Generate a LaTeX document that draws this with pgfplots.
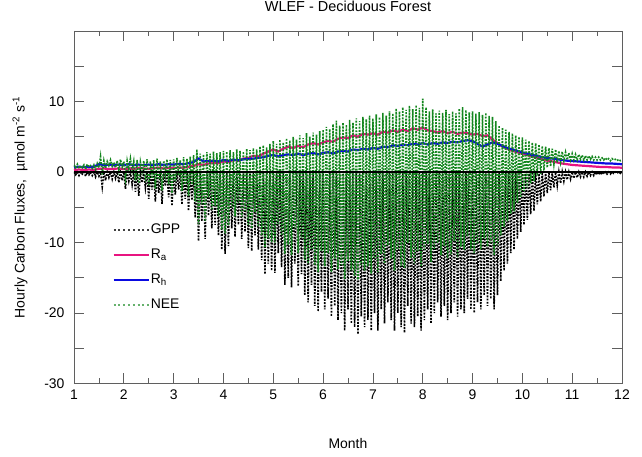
\documentclass[border=0pt]{standalone}
\usepackage{fontspec}
\setmainfont{Liberation Sans}
\usepackage{pgfplots}
\usepackage{pgfplotstable}
\pgfplotsset{compat=1.18}

\definecolor{RaPink}{RGB}{232,20,128}
\definecolor{RhBlue}{RGB}{10,10,225}
\definecolor{NeeGreen}{RGB}{20,135,30}
\definecolor{AxisGray}{RGB}{95,95,95}

% hourly fluxes, thinned to one night/noon pair every two days
\pgfplotstableread{
x gpp nee
1.000 0 1.0
1.033 -0.4 0.6
1.067 0 1.1
1.100 -0.5 0.5
1.133 0 0.9
1.167 -0.3 0.6
1.200 0 1.0
1.233 -0.6 0.4
1.267 0 1.1
1.300 -0.4 0.7
1.333 0 0.9
1.367 -0.5 0.5
1.400 0 1.0
1.433 -0.7 0.3
1.467 0 1.2
1.500 -0.6 0.6
1.533 0 2.2
1.567 -2.1 -0.4
1.600 0 1.6
1.633 -1.2 0.5
1.667 0 1.5
1.700 -0.8 0.9
1.733 0 1.7
1.767 -1.0 0.8
1.800 0 1.4
1.833 -0.9 0.6
1.867 0 1.6
1.900 -1.5 0.2
1.933 0 1.8
1.967 -1.2 0.7
2.000 0 1.5
2.033 -2.4 -0.8
2.067 0 1.6
2.100 -1.3 0.4
2.133 0 1.9
2.167 -1.8 0.2
2.200 0 1.5
2.233 -2.8 -1.2
2.267 0 1.7
2.300 -3.4 -1.6
2.333 0 1.4
2.367 -1.5 0.1
2.400 0 1.6
2.433 -2.2 -0.5
2.467 0 1.8
2.500 -3.8 -2.0
2.533 0 1.5
2.567 -2.5 -0.9
2.600 0 1.7
2.633 -4.2 -2.4
2.667 0 1.9
2.700 -3.0 -1.1
2.733 0 1.5
2.767 -4.5 -2.6
2.800 0 1.6
2.833 -2.0 -0.3
2.867 0 1.8
2.900 -3.6 -1.8
2.933 0 1.7
2.967 -4.8 -3.0
3.000 0 1.8
3.033 -3.2 -1.3
3.067 0 2.0
3.100 -2.5 -0.5
3.133 0 1.7
3.167 -4.6 -2.7
3.200 0 2.1
3.233 -3.8 -1.8
3.267 0 1.9
3.300 -5.5 -3.4
3.333 0 2.2
3.367 -4.0 -1.8
3.400 0 2.4
3.433 -6.5 -4.2
3.467 0 3.2
3.500 -9.8 -7.4
3.533 0 2.6
3.567 -7.0 -4.6
3.600 0 2.5
3.633 -9.5 -7.0
3.667 0 2.8
3.700 -6.2 -3.6
3.733 0 2.6
3.767 -8.0 -5.4
3.800 0 2.9
3.833 -7.5 -4.8
3.867 0 2.7
3.900 -9.0 -6.3
3.933 0 2.8
3.967 -11.0 -8.2
4.000 0 3.0
4.033 -11.6 -8.7
4.067 0 2.9
4.100 -10.5 -7.6
4.133 0 3.1
4.167 -8.0 -5.0
4.200 0 2.8
4.233 -9.2 -6.3
4.267 0 3.2
4.300 -7.5 -4.4
4.333 0 3.0
4.367 -9.5 -6.4
4.400 0 2.9
4.433 -8.5 -5.5
4.467 0 3.3
4.500 -10.8 -7.6
4.533 0 3.1
4.567 -11.2 -8.0
4.600 0 3.4
4.633 -9.0 -5.7
4.667 0 3.2
4.700 -11.0 -7.8
4.733 0 3.6
4.767 -12.5 -9.0
4.800 0 3.8
4.833 -14.5 -10.7
4.867 0 3.5
4.900 -13.0 -9.4
4.933 0 4.0
4.967 -14.0 -10.0
5.000 0 4.4
5.033 -14.3 -10.0
5.067 0 4.0
5.100 -11.5 -7.4
5.133 0 4.6
5.167 -13.5 -9.0
5.200 0 4.2
5.233 -16.0 -11.6
5.267 0 4.8
5.300 -15.0 -10.3
5.333 0 4.5
5.367 -16.4 -11.8
5.400 0 5.0
5.433 -13.0 -8.0
5.467 0 4.6
5.500 -16.2 -11.5
5.533 0 5.2
5.567 -14.5 -9.3
5.600 0 4.8
5.633 -17.5 -12.5
5.667 0 5.5
5.700 -18.5 -13.0
5.733 0 5.0
5.767 -16.0 -11.0
5.800 0 5.6
5.833 -19.0 -13.2
5.867 0 5.3
5.900 -19.8 -14.2
5.933 0 5.8
5.967 -17.0 -11.2
6.000 0 6.0
6.033 -19.5 -13.4
6.067 0 6.4
6.100 -18.0 -11.6
6.133 0 6.1
6.167 -20.5 -14.2
6.200 0 6.8
6.233 -19.0 -12.3
6.267 0 7.3
6.300 -21.0 -13.8
6.333 0 6.6
6.367 -20.0 -13.2
6.400 0 7.0
6.433 -22.5 -15.2
6.467 0 6.7
6.500 -19.5 -12.6
6.533 0 7.4
6.567 -21.5 -14.0
6.600 0 7.0
6.633 -22.0 -14.8
6.667 0 7.6
6.700 -23.0 -15.3
6.733 0 7.2
6.767 -20.5 -13.2
6.800 0 7.8
6.833 -22.0 -14.0
6.867 0 7.5
6.900 -21.0 -13.4
6.933 0 8.0
6.967 -22.5 -14.4
7.000 0 7.6
7.033 -20.0 -12.3
7.067 0 8.2
7.100 -22.5 -14.2
7.133 0 7.8
7.167 -19.5 -11.6
7.200 0 8.4
7.233 -21.5 -13.0
7.267 0 8.0
7.300 -18.5 -10.4
7.333 0 8.6
7.367 -21.0 -12.3
7.400 0 8.3
7.433 -22.5 -14.0
7.467 0 9.0
7.500 -20.0 -11.0
7.533 0 8.6
7.567 -22.0 -13.3
7.600 0 9.2
7.633 -22.8 -13.6
7.667 0 8.8
7.700 -19.0 -10.1
7.733 0 9.4
7.767 -21.5 -12.2
7.800 0 8.9
7.833 -22.0 -13.0
7.867 0 9.5
7.900 -20.5 -11.2
7.933 0 9.1
7.967 -22.5 -13.4
8.000 0 10.4
8.033 -21.0 -11.0
8.067 0 9.2
8.100 -19.5 -10.2
8.133 0 8.6
8.167 -21.5 -12.8
8.200 0 8.9
8.233 -20.0 -11.0
8.267 0 8.3
8.300 -18.5 -10.1
8.333 0 8.7
8.367 -20.5 -11.8
8.400 0 8.4
8.433 -19.0 -10.5
8.467 0 8.8
8.500 -21.0 -12.2
8.533 0 8.2
8.567 -20.0 -11.7
8.600 0 8.6
8.633 -18.5 -9.8
8.667 0 8.3
8.700 -20.5 -12.1
8.733 0 9.0
8.767 -19.5 -10.6
8.800 0 9.2
8.833 -20.0 -11.0
8.867 0 8.8
8.900 -18.0 -9.1
8.933 0 8.5
8.967 -19.5 -11.0
9.000 0 8.6
9.033 -20.0 -11.5
9.067 0 8.3
9.100 -18.5 -10.2
9.133 0 8.5
9.167 -19.5 -11.0
9.200 0 8.1
9.233 -17.5 -9.4
9.267 0 8.4
9.300 -19.0 -10.6
9.333 0 8.0
9.367 -18.0 -10.0
9.400 0 7.8
9.433 -19.5 -11.8
9.467 0 7.2
9.500 -17.5 -10.4
9.533 0 6.6
9.567 -15.5 -9.0
9.600 0 6.3
9.633 -14.0 -7.8
9.667 0 6.0
9.700 -13.0 -7.0
9.733 0 5.7
9.767 -11.5 -5.9
9.800 0 5.5
9.833 -11.0 -5.6
9.867 0 5.2
9.900 -9.5 -4.4
9.933 0 5.0
9.967 -8.5 -3.6
10.000 0 4.9
10.033 -7.5 -2.7
10.067 0 4.6
10.100 -6.8 -2.2
10.133 0 4.4
10.167 -6.0 -1.6
10.200 0 4.2
10.233 -5.5 -1.3
10.267 0 4.1
10.300 -4.6 -0.5
10.333 0 3.9
10.367 -4.2 -0.3
10.400 0 3.7
10.433 -3.5 0.2
10.467 0 3.6
10.500 -3.0 0.6
10.533 0 3.4
10.567 -2.6 0.8
10.600 0 3.3
10.633 -2.2 1.1
10.667 0 3.2
10.700 -1.9 1.3
10.733 0 3.0
10.767 -1.6 1.4
10.800 0 2.9
10.833 -1.3 1.6
10.867 0 2.8
10.900 -1.1 1.7
10.933 0 2.7
10.967 -1.0 1.7
11.000 0 2.6
11.033 -0.9 1.7
11.067 0 2.5
11.100 -0.8 1.7
11.133 0 2.5
11.167 -0.7 1.8
11.200 0 2.4
11.233 -0.7 1.7
11.267 0 2.3
11.300 -0.6 1.7
11.333 0 2.3
11.367 -0.5 1.8
11.400 0 2.2
11.433 -0.5 1.7
11.467 0 2.1
11.500 -0.4 1.7
11.533 0 2.1
11.567 -0.4 1.7
11.600 0 2.0
11.633 -0.3 1.7
11.667 0 2.0
11.700 -0.3 1.7
11.733 0 1.9
11.767 -0.3 1.6
11.800 0 1.9
11.833 -0.2 1.7
11.867 0 1.8
11.900 -0.2 1.6
11.933 0 1.8
11.967 -0.2 1.6
12.000 0 1.7
}\fluxes

% respiration components
\pgfplotstableread{
x ra rh
1.0 0.30 0.70
1.1 0.35 0.75
1.2 0.30 0.70
1.3 0.35 0.70
1.4 0.30 0.75
1.5 0.45 1.10
1.6 0.50 1.00
1.7 0.40 1.05
1.8 0.45 0.95
1.9 0.50 1.05
2.0 0.40 1.00
2.1 0.50 1.10
2.2 0.45 1.00
2.3 0.55 1.05
2.4 0.50 0.95
2.5 0.45 1.05
2.6 0.55 1.00
2.7 0.60 1.10
2.8 0.50 1.00
2.9 0.60 1.10
3.0 0.55 1.05
3.1 0.65 1.15
3.2 0.60 1.10
3.3 0.75 1.25
3.4 0.85 1.40
3.5 1.10 1.90
3.6 1.00 1.50
3.7 1.20 1.55
3.8 1.30 1.60
3.9 1.25 1.50
4.0 1.50 1.70
4.1 1.40 1.60
4.2 1.70 1.75
4.3 1.60 1.65
4.4 1.90 1.80
4.5 2.00 1.85
4.6 2.30 1.90
4.7 2.20 2.00
4.8 2.60 2.10
4.9 2.90 2.30
5.0 3.20 2.40
5.1 2.90 2.20
5.2 3.30 2.40
5.3 3.60 2.50
5.4 3.40 2.40
5.5 3.70 2.60
5.6 3.50 2.40
5.7 3.90 2.60
5.8 4.10 2.70
5.9 3.90 2.50
6.0 4.20 2.70
6.1 4.40 2.80
6.2 4.30 2.60
6.3 4.70 2.90
6.4 4.90 3.00
6.5 4.80 2.90
6.6 5.20 3.20
6.7 5.00 3.10
6.8 5.40 3.30
6.9 5.30 3.20
7.0 5.50 3.40
7.1 5.30 3.30
7.2 5.70 3.60
7.3 5.60 3.50
7.4 5.90 3.80
7.5 5.70 3.70
7.6 6.00 3.90
7.7 5.80 3.80
7.8 6.20 4.00
7.9 6.00 3.90
8.0 6.30 4.10
8.1 5.90 3.90
8.2 5.80 4.10
8.3 5.60 4.00
8.4 5.80 4.20
8.5 5.50 4.10
8.6 5.70 4.30
8.7 5.40 4.20
8.8 5.60 4.40
8.9 5.50 4.50
9.0 5.30 4.40
9.1 5.40 4.00
9.2 5.10 3.60
9.3 5.20 3.90
9.4 4.60 4.20
9.5 4.10 4.00
9.6 3.60 3.70
9.7 3.30 3.40
9.8 3.00 3.20
9.9 2.80 3.00
10.0 2.60 2.80
10.1 2.40 2.60
10.2 2.20 2.40
10.3 2.00 2.30
10.4 1.80 2.10
10.5 1.60 2.00
10.6 1.50 1.90
10.7 1.35 1.80
10.8 1.20 1.70
10.9 1.10 1.60
11.0 1.00 1.55
11.1 0.95 1.50
11.2 0.90 1.45
11.3 0.85 1.40
11.4 0.80 1.35
11.5 0.75 1.30
11.6 0.70 1.25
11.7 0.70 1.20
11.8 0.65 1.20
11.9 0.65 1.15
12.0 0.60 1.10
}\resp

\begin{document}
\begin{tikzpicture}
\begin{axis}[
  scale only axis,
  width=548bp, height=352.5bp,
  xmin=1, xmax=12, ymin=-30, ymax=20,
  xtick={1,2,...,12}, minor x tick num=1,
  ytick={-30,-25,...,15},
  yticklabels={-30,,-20,,-10,,0,,10,},
  major tick length=10bp, minor tick length=5bp,
  tick align=inside,
  axis line style={AxisGray, line width=0.8bp},
  tick style={AxisGray, line width=0.8bp},
  /pgf/number format/assume math mode=true,
  tick label style={font=\fontsize{14}{16}\selectfont},
  x tick label style={yshift=-3bp},
  y tick label style={xshift=-6bp},
  title={WLEF - Deciduous Forest},
  title style={at={(axis description cs:0.5,1.054)}, anchor=center,
    font=\fontsize{14.5}{16}\selectfont},
  xlabel={Month},
  xlabel style={at={(axis description cs:0.5,-0.169)}, anchor=center,
    font=\fontsize{14}{16}\selectfont},
  ylabel={Hourly Carbon Fluxes,\ \ µmol m\textsuperscript{-2} s\textsuperscript{-1}},
  ylabel style={at={(axis description cs:-0.0985,0.5)}, anchor=center,
    font=\fontsize{14}{16}\selectfont},
  legend style={at={(axis description cs:0.07,0.458)}, anchor=north west,
    draw=none, fill=none, inner sep=0pt,
    font=\fontsize{14}{16}\selectfont,
    nodes={inner sep=1bp, text height=10bp, text depth=3bp},
    row sep=10bp},
  legend cell align=left,
  legend image code/.code={\draw[#1] (0bp,0bp) -- (35bp,0bp);},
]
\addplot[black, line width=1.6bp, dash pattern=on 1.8bp off 1.4bp,
  legend image post style={black!75, line width=1.8bp,
    dash pattern=on 2bp off 2.8bp}]
  table[x=x, y=gpp] {\fluxes};
\addlegendentry{GPP}
\addplot[RaPink, line width=2.2bp] table[x=x, y=ra] {\resp};
\addlegendentry{R\textsubscript{a}}
\addplot[RhBlue, line width=2.2bp] table[x=x, y=rh] {\resp};
\addlegendentry{R\textsubscript{h}}
\addplot[NeeGreen, line width=1.6bp, dash pattern=on 1.8bp off 1.4bp,
  legend image post style={NeeGreen!65, line width=1.8bp,
    dash pattern=on 2bp off 2.8bp}]
  table[x=x, y=nee] {\fluxes};
\addlegendentry{NEE}
\addplot[black, line width=1.6bp, forget plot] coordinates {(1,0) (12,0)};
\end{axis}
\pgfresetboundingbox
\path ([shift={(-74bp,-73.5bp)}]current axis.south west)
  rectangle ([shift={(20bp,31bp)}]current axis.north east);
\end{tikzpicture}
\end{document}
